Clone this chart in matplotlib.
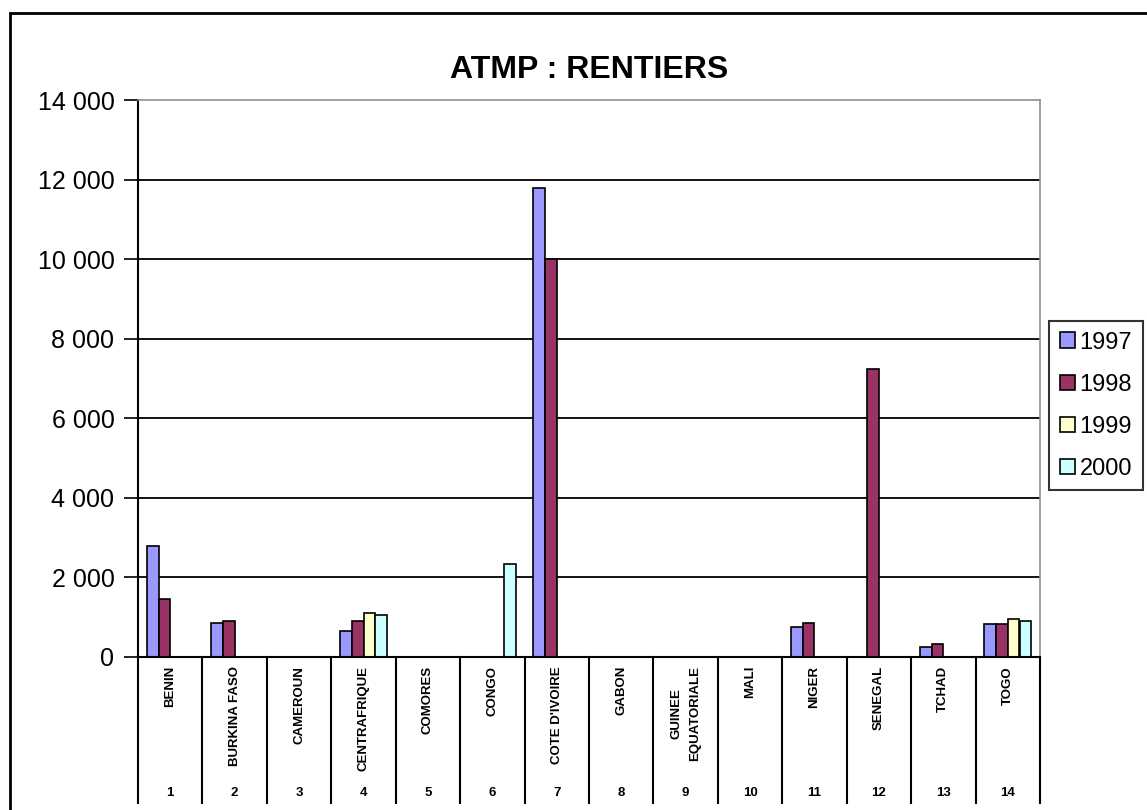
import matplotlib
matplotlib.use("Agg")
import matplotlib.pyplot as plt
from matplotlib.patches import Rectangle, Patch
from matplotlib.ticker import FuncFormatter

plt.rcParams["font.family"] = ["Liberation Sans", "DejaVu Sans"]

countries = ["BENIN", "BURKINA FASO", "CAMEROUN", "CENTRAFRIQUE", "COMORES",
             "CONGO", "COTE D'IVOIRE", "GABON", "GUINEE\nEQUATORIALE", "MALI",
             "NIGER", "SENEGAL", "TCHAD", "TOGO"]
numbers = [str(i) for i in range(1, 15)]
years = ["1997", "1998", "1999", "2000"]

v1997 = [2800, 850, 0, 650, 0, 0, 11800, 0, 0, 0, 750, 0, 250, 840]
v1998 = [1450, 900, 0, 900, 0, 0, 10000, 0, 0, 0, 850, 7250, 330, 840]
v1999 = [0, 0, 0, 1100, 0, 0, 0, 0, 0, 0, 0, 0, 0, 950]
v2000 = [0, 0, 0, 1050, 0, 2350, 0, 0, 0, 0, 0, 0, 0, 900]
series = [v1997, v1998, v1999, v2000]
colors = ["#9999FF", "#993366", "#FFFFCC", "#CCFFFF"]

W, H = 1147, 810
fig = plt.figure(figsize=(W / 100, H / 100), dpi=100)
ax = fig.add_axes([138 / W, 1 - 657 / H, (1040 - 138) / W, (657 - 100) / H])

# outer chart border
fig.patches.append(Rectangle((10 / W, -0.05), 1.1, 1 - 13 / H + 0.05,
                             transform=fig.transFigure, fill=False,
                             edgecolor="black", linewidth=2))

n = len(countries)
x = list(range(n))
bw = 1 / 5.5
for k, vals in enumerate(series):
    xs = [xi + (k - 1.5) * bw for xi in x]
    ax.bar(xs, vals, width=bw, color=colors[k], edgecolor="black",
           linewidth=1.2, zorder=3)

ax.set_xlim(-0.5, n - 0.5)
ax.set_ylim(0, 14000)
ax.set_yticks(range(0, 14001, 2000))
ax.yaxis.set_major_formatter(FuncFormatter(lambda v, p: f"{int(v):,}".replace(",", " ")))
ax.tick_params(axis="y", direction="out", length=10, width=1.2, pad=7, labelsize=18)
ax.set_xticks([])

for yv in range(2000, 14000, 2000):
    ax.axhline(yv, color="black", linewidth=1.3, zorder=1)

for s in ["top", "right"]:
    ax.spines[s].set_color("#909090")
    ax.spines[s].set_linewidth(1.2)
for s in ["left", "bottom"]:
    ax.spines[s].set_color("black")
    ax.spines[s].set_linewidth(1.5)
ax.spines["bottom"].set_zorder(4)

# category table below the axis
tr = ax.get_xaxis_transform()
ybot = -(803 - 657) / 557
for b in range(n + 1):
    ax.plot([b - 0.5, b - 0.5], [0, ybot], transform=tr, color="black",
            linewidth=1.5, clip_on=False)
for i, (name, num) in enumerate(zip(countries, numbers)):
    ax.text(i, -9 / 557, name, transform=tr, rotation=90, ha="center",
            va="top", fontsize=9.5, fontweight="bold", multialignment="center",
            linespacing=1.7)
    ax.text(i, -(793 - 657) / 557, num, transform=tr, ha="center",
            va="center", fontsize=9.5, fontweight="bold")

fig.text(589 / W, 1 - 78 / H, "ATMP : RENTIERS", ha="center", va="baseline",
         fontsize=23, fontweight="bold")

handles = [Patch(facecolor=c, edgecolor="black", linewidth=1.2) for c in colors]
leg = fig.legend(handles, years, loc="upper left",
                 bbox_to_anchor=(1049 / W, 1 - 321 / H), fontsize=17,
                 frameon=True, fancybox=False, edgecolor="black",
                 handlelength=0.65, handleheight=0.65, handletextpad=0.2,
                 labelspacing=0.85, borderpad=0.45, borderaxespad=0)
leg.get_frame().set_linewidth(1.5)

fig.savefig("out.png", dpi=100)
